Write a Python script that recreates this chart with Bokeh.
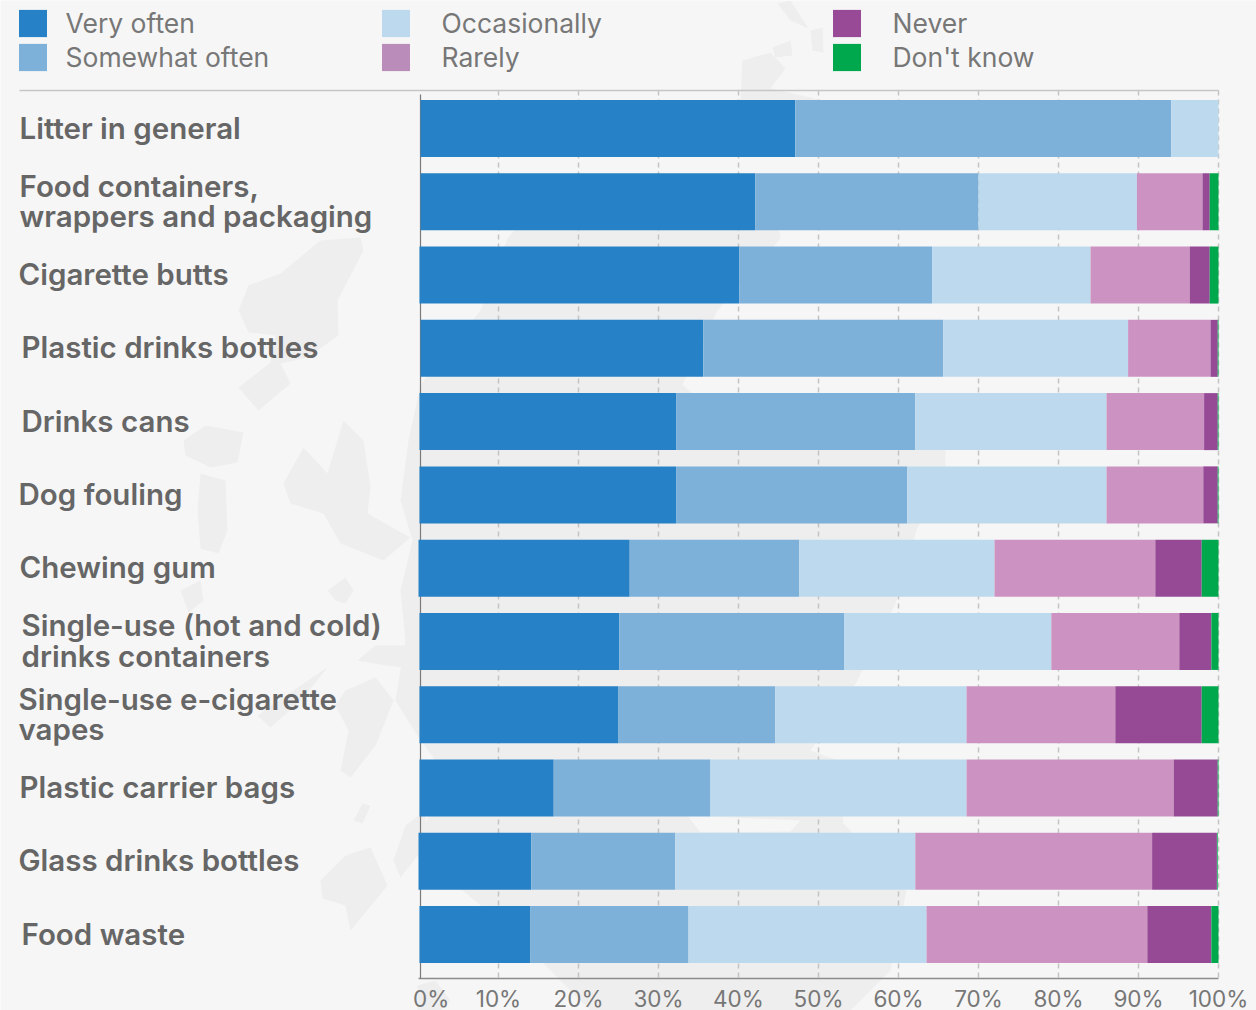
from bokeh.plotting import figure
from bokeh.models import Range1d, Legend, LegendItem, FixedTicker
from bokeh.core.properties import value
from bokeh.embed import file_html
from bokeh.resources import INLINE
import numpy as np

categories = ["Litter in general", "Food containers,\nwrappers and packaging", "Cigarette butts",
              "Plastic drinks bottles", "Drinks cans", "Dog fouling", "Chewing gum",
              "Single-use (hot and cold)\ndrinks containers", "Single-use e-cigarette\nvapes",
              "Plastic carrier bags", "Glass drinks bottles", "Food waste"]
series_names = ["Very often", "Somewhat often", "Occasionally", "Rarely", "Never", "Don't know"]
very_often = [47.1, 42.1, 40.1, 35.6, 32.2, 32.2, 26.4, 25.1, 25.0, 16.9, 14.1, 14.0]
somewhat_often = [47.0, 27.9, 24.1, 30.0, 29.9, 28.9, 21.2, 28.1, 19.6, 19.6, 18.0, 19.75]
occasionally = [5.9, 19.8, 19.8, 23.1, 23.9, 24.9, 24.4, 25.9, 23.9, 32.0, 30.0, 29.75]
rarely = [0, 8.2, 12.4, 10.3, 12.2, 12.1, 20.1, 16.0, 18.6, 25.9, 29.6, 27.6]
never = [0, 0.9, 2.5, 0.9, 1.7, 1.8, 5.8, 4.0, 10.8, 5.5, 8.1, 8.0]
dont_know = [0, 1.1, 1.1, 0.1, 0.1, 0.1, 2.1, 0.9, 2.1, 0.1, 0.1, 0.9]
bar_starts = [0.25, 0.25, 0.12, 0.25, 0.12, 0.12, 0, 0.12, 0.12, 0.12, 0, 0.12]
tick_values = [0, 10, 20, 30, 40, 50, 60, 70, 80, 90, 100]
tick_labels = ["\u00a0\u00a0\u00a0\u00a00%", "10%", "20%", "30%", "40%", "50%", "60%", "70%", "80%", "90%", "100%"]

bar_colors = ["#2781c6", "#7db1da", "#bdd9ee", "#cc93c2", "#964a96", "#00a84d"]
legend_colors = ["#2781c6", "#7db1da", "#bcd9ee", "#ba8cba", "#984a97", "#00a84d"]
BG, MAP, TXT, TXT2, FONT = "#f6f6f6", "#eeeeee", "#666666", "#777777", "Inter"

W, H = 1256, 1010
ROW = 73.27
Y_BOTTOM = 934
def yrow(py):
    return (Y_BOTTOM - py) / ROW

p = figure(width=W, height=H, output_backend="svg", toolbar_location=None,
           x_range=Range1d(-418 / 8, (W - 418) / 8),
           y_range=Range1d(yrow(H), yrow(0)),
           min_border=0, min_border_left=0, min_border_right=0, min_border_top=0, min_border_bottom=0,
           background_fill_color=BG, border_fill_color=BG, outline_line_color=None)
p.extra_x_ranges["px"] = Range1d(0, W)
p.extra_y_ranges["px"] = Range1d(H, 0)

# faint map silhouette behind the chart (page pixel coordinates)
map_shapes = [
    [(560,175),(770,175),(780,238),(717,310),(682,384),(720,420),(860,425),(945,440),(945,470),(916,530),
     (895,603),(857,680),(810,750),(837,760),(843,823),(906,890),(890,970),(850,1010),(590,1010),(540,960),
     (480,905),(450,880),(425,880),(420,830),(450,780),(420,740),(395,700),(405,640),(400,590),(412,540),
     (400,500),(408,440),(420,384),(480,310),(507,238)],
    [(360,237),(363,250),(337,300),(338,335),(307,357),(280,363),(290,383),(258,410),(238,387),(270,362),
     (275,335),(248,332),(238,310),(248,285),(280,273),(320,240)],
    [(343,420),(363,440),(370,487),(367,513),(397,530),(410,537),(383,560),(340,543),(323,513),(290,503),
     (283,483),(303,447),(327,473)],
    [(183,440),(205,425),(243,432),(237,462),(210,467),(185,455)],
    [(200,473),(225,480),(227,530),(218,553),(200,548),(197,510)],
    [(180,590),(200,580),(203,600),(188,612)],
    [(327,590),(345,577),(353,590),(345,603),(335,600)],
    [(357,660),(375,645),(413,645),(413,668),(385,665)],
    [(345,690),(375,677),(393,700),(375,745),(350,777),(340,770),(348,730),(335,705)],
    [(257,715),(300,685),(327,667),(300,700),(270,727)],
    [(353,820),(362,803),(370,805),(362,823)],
    [(320,880),(345,855),(370,847),(387,885),(350,930),(345,905),(322,898)],
    [(393,860),(405,825),(425,810),(425,845),(400,877)],
    [(417,985),(435,980),(450,1000),(440,1010),(417,1010)],
    [(777,3),(790,0),(808,28),(790,20)],
    [(810,30),(822,27),(823,52),(812,50)],
    [(772,47),(790,40),(792,55),(775,57)],
    [(742,60),(770,52),(785,68),(770,88),(823,100),(740,100)],
]
p.patches(xs=[[q[0] for q in s] for s in map_shapes], ys=[[q[1] for q in s] for s in map_shapes],
          x_range_name="px", y_range_name="px", fill_color=MAP, line_color=None, level="image")
p.patches(xs=[[687,800,790,700]], ys=[[815,820,831,832]], x_range_name="px", y_range_name="px",
          fill_color=BG, line_color=None, level="image")

# dashed vertical rules and the rule above the plot
p.segment(x0=tick_values[1:], x1=tick_values[1:], y0=[yrow(90)] * 10, y1=[yrow(978)] * 10,
          line_color="#c4c4c4", line_width=1.5, line_dash="5 4", level="underlay")
p.segment(x0=[19], x1=[1218], y0=[90], y1=[90], x_range_name="px", y_range_name="px",
          line_color="#c6c6c6", line_width=1.5, level="underlay")

rows = np.arange(len(categories))[::-1]
values = np.array([very_often, somewhat_often, occasionally, rarely, never, dont_know], dtype=float)
left = np.array(bar_starts, dtype=float)
cum = np.zeros(len(categories))
for k in range(len(series_names)):
    right = cum + values[k]
    p.hbar(y=rows, left=np.maximum(cum, left), right=right, height=57 / ROW,
           fill_color=bar_colors[k], line_color=None)
    cum = right

# legends
legend_handles = [p.hbar(y=[0], left=[0], right=[0], height=0, fill_color=c, line_color=None) for c in legend_colors]
for start, xloc, standoff in [(0, 14.5, 16), (2, 377.5, 29), (4, 828.5, 29)]:
    items = [LegendItem(label=series_names[i], renderers=[legend_handles[i]]) for i in (start, start + 1)]
    lg = Legend(items=items, location=(xloc, H - 74), orientation="vertical",
                glyph_width=35, glyph_height=34, spacing=0, padding=0, margin=0, label_standoff=standoff,
                label_height=20, label_width=20,
                label_text_font=FONT, label_text_font_size="26.5px", label_text_color=TXT2,
                background_fill_alpha=0, border_line_color=None, click_policy="none")
    p.add_layout(lg, "center")

# category labels
label_x = [19, 19, 18, 21, 21, 18, 19, 21, 18, 19, 18, 21]
p.text(x=label_x, y=rows, text=categories, x_range_name="px", y_offset=-1,
       text_font=value("Inter SemiBold"), text_font_size="29.5px", text_color=TXT,
       text_align="left", text_baseline="middle", text_line_height=0.84)

# axes
xa = p.xaxis[0]
xa.fixed_location = yrow(978)
xa.bounds = (0, 100)
xa.ticker = FixedTicker(ticks=tick_values)
xa.major_label_overrides = {t: s for t, s in zip(tick_values, tick_labels)}
xa.major_tick_line_color = None
xa.minor_tick_line_color = None
xa.major_label_standoff = 0
xa.major_label_text_font = FONT
xa.major_label_text_font_size = "22.5px"
xa.major_label_text_color = TXT2
xa.axis_line_color = "#8c8c8c"
xa.axis_line_width = 1.5
xa.level = "underlay"

ya = p.yaxis[0]
ya.fixed_location = 0.25
ya.bounds = (yrow(978), yrow(94))
ya.ticker = FixedTicker(ticks=[])
ya.major_tick_line_color = None
ya.minor_tick_line_color = None
ya.axis_line_color = "#7a7a7a"
ya.axis_line_width = 1.2
ya.level = "underlay"

p.grid.visible = False

open("out.html", "w").write(file_html(p, INLINE))
